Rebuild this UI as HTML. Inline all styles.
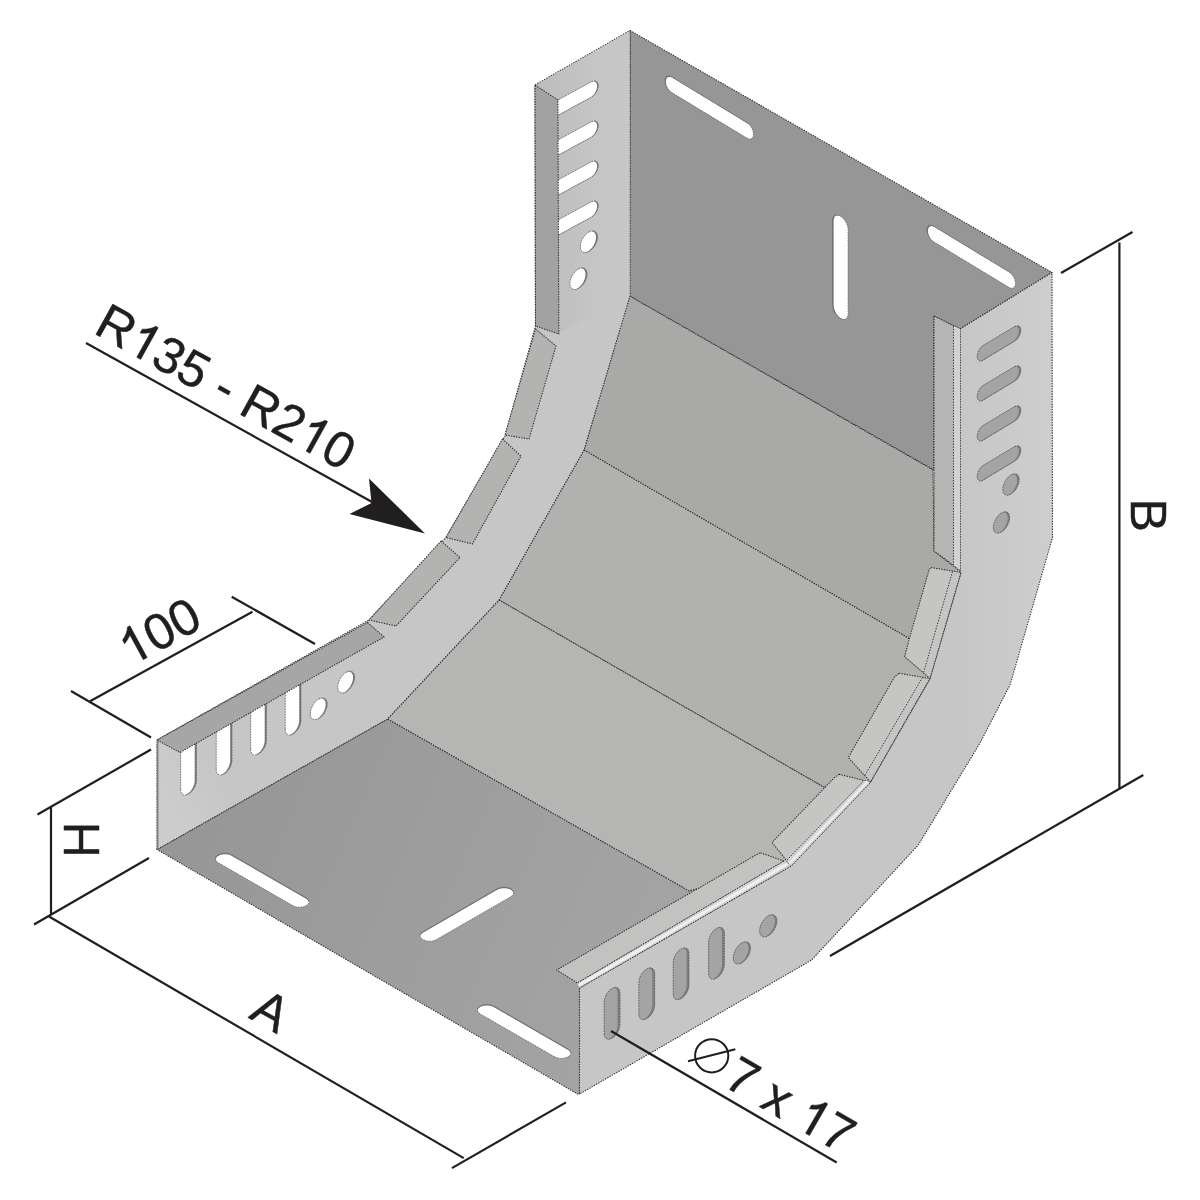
<!DOCTYPE html>
<html><head><meta charset="utf-8">
<style>
html,body{margin:0;padding:0;background:#fff;}
body{width:1200px;height:1200px;overflow:hidden;font-family:"Liberation Sans",sans-serif;}
svg{display:block}
text{font-family:"Liberation Sans",sans-serif;}
.e{stroke:#333;stroke-width:1.1;stroke-linejoin:round;stroke-dasharray:1.4 1.2}
.el{stroke:#383838;stroke-width:1;fill:none;stroke-dasharray:1.4 1.4}
.d{stroke:#211e1f;stroke-width:2.2;fill:none;stroke-linecap:butt}
</style></head><body>
<svg width="1200" height="1200" viewBox="0 0 1200 1200">
<defs>
<linearGradient id="gfloor" x1="200" y1="830" x2="600" y2="1000" gradientUnits="userSpaceOnUse">
<stop offset="0" stop-color="#989797"/><stop offset="1" stop-color="#a4a3a3"/></linearGradient>
<linearGradient id="grw" x1="960" y1="0" x2="1052" y2="0" gradientUnits="userSpaceOnUse">
<stop offset="0" stop-color="#c6c6c6"/><stop offset="1" stop-color="#cecece"/></linearGradient>
<linearGradient id="glw" x1="157" y1="800" x2="400" y2="680" gradientUnits="userSpaceOnUse">
<stop offset="0" stop-color="#cdcdcd"/><stop offset="0.25" stop-color="#c6c6c6"/><stop offset="1" stop-color="#c6c6c6"/></linearGradient>
<linearGradient id="glu" x1="545" y1="0" x2="630" y2="0" gradientUnits="userSpaceOnUse">
<stop offset="0" stop-color="#bebdbd"/><stop offset="0.55" stop-color="#c6c5c5"/><stop offset="1" stop-color="#c8c7c7"/></linearGradient>
</defs>
<rect width="1200" height="1200" fill="#fff"/>

<polygon class="e" fill="#979696" points="630.0,30.5 1052.0,272.5 960.0,329.0 934.0,316.0 934.0,470.0 629.5,296.0" />
<polygon fill="#6e6e6e" points="746.8,122.5 748.3,123.6 749.7,125.0 751.0,126.7 752.1,128.6 752.9,130.5 753.3,132.5 753.5,134.3 753.3,135.9 752.9,137.3 752.1,138.3 751.0,138.9 749.7,139.0 748.3,138.8 746.8,138.1 671.7,92.5 670.2,91.4 668.8,90.0 667.5,88.3 666.4,86.4 665.6,84.5 665.2,82.5 665.0,80.7 665.2,79.1 665.6,77.7 666.4,76.7 667.5,76.1 668.8,76.0 670.2,76.2 671.7,76.9"/>
<clipPath id="c3"><polygon points="746.8,122.5 748.3,123.6 749.7,125.0 751.0,126.7 752.1,128.6 752.9,130.5 753.3,132.5 753.5,134.3 753.3,135.9 752.9,137.3 752.1,138.3 751.0,138.9 749.7,139.0 748.3,138.8 746.8,138.1 671.7,92.5 670.2,91.4 668.8,90.0 667.5,88.3 666.4,86.4 665.6,84.5 665.2,82.5 665.0,80.7 665.2,79.1 665.6,77.7 666.4,76.7 667.5,76.1 668.8,76.0 670.2,76.2 671.7,76.9"/></clipPath>
<polygon clip-path="url(#c3)" fill="#fff" points="747.7,123.4 749.2,124.5 750.6,125.9 751.9,127.6 753.0,129.5 753.8,131.4 754.2,133.4 754.4,135.2 754.2,136.8 753.8,138.2 753.0,139.2 751.9,139.8 750.6,139.9 749.2,139.7 747.7,139.0 672.6,93.4 671.1,92.3 669.7,90.9 668.4,89.2 667.3,87.3 666.5,85.4 666.1,83.4 665.9,81.6 666.1,80.0 666.5,78.6 667.3,77.6 668.4,77.0 669.7,76.9 671.1,77.1 672.6,77.8"/>
<polygon fill="none" stroke="#666" stroke-width="0.8" stroke-dasharray="1.6 1.1" points="746.8,122.5 748.3,123.6 749.7,125.0 751.0,126.7 752.1,128.6 752.9,130.5 753.3,132.5 753.5,134.3 753.3,135.9 752.9,137.3 752.1,138.3 751.0,138.9 749.7,139.0 748.3,138.8 746.8,138.1 671.7,92.5 670.2,91.4 668.8,90.0 667.5,88.3 666.4,86.4 665.6,84.5 665.2,82.5 665.0,80.7 665.2,79.1 665.6,77.7 666.4,76.7 667.5,76.1 668.8,76.0 670.2,76.2 671.7,76.9"/>
<polygon fill="#6e6e6e" points="1008.8,271.7 1010.3,272.8 1011.7,274.2 1013.0,275.9 1014.1,277.8 1014.9,279.8 1015.3,281.7 1015.5,283.6 1015.3,285.2 1014.9,286.5 1014.1,287.5 1013.0,288.1 1011.7,288.3 1010.3,288.0 1008.8,287.3 933.7,241.8 932.2,240.7 930.8,239.3 929.5,237.6 928.4,235.7 927.6,233.7 927.2,231.8 927.0,229.9 927.2,228.3 927.6,227.0 928.4,226.0 929.5,225.4 930.8,225.2 932.2,225.5 933.7,226.2"/>
<clipPath id="c7"><polygon points="1008.8,271.7 1010.3,272.8 1011.7,274.2 1013.0,275.9 1014.1,277.8 1014.9,279.8 1015.3,281.7 1015.5,283.6 1015.3,285.2 1014.9,286.5 1014.1,287.5 1013.0,288.1 1011.7,288.3 1010.3,288.0 1008.8,287.3 933.7,241.8 932.2,240.7 930.8,239.3 929.5,237.6 928.4,235.7 927.6,233.7 927.2,231.8 927.0,229.9 927.2,228.3 927.6,227.0 928.4,226.0 929.5,225.4 930.8,225.2 932.2,225.5 933.7,226.2"/></clipPath>
<polygon clip-path="url(#c7)" fill="#fff" points="1009.7,272.6 1011.2,273.7 1012.6,275.1 1013.9,276.8 1015.0,278.7 1015.8,280.7 1016.2,282.6 1016.4,284.5 1016.2,286.1 1015.8,287.4 1015.0,288.4 1013.9,289.0 1012.6,289.2 1011.2,288.9 1009.7,288.2 934.6,242.7 933.1,241.6 931.7,240.2 930.4,238.5 929.3,236.6 928.5,234.6 928.1,232.7 927.9,230.8 928.1,229.2 928.5,227.9 929.3,226.9 930.4,226.3 931.7,226.1 933.1,226.4 934.6,227.1"/>
<polygon fill="none" stroke="#666" stroke-width="0.8" stroke-dasharray="1.6 1.1" points="1008.8,271.7 1010.3,272.8 1011.7,274.2 1013.0,275.9 1014.1,277.8 1014.9,279.8 1015.3,281.7 1015.5,283.6 1015.3,285.2 1014.9,286.5 1014.1,287.5 1013.0,288.1 1011.7,288.3 1010.3,288.0 1008.8,287.3 933.7,241.8 932.2,240.7 930.8,239.3 929.5,237.6 928.4,235.7 927.6,233.7 927.2,231.8 927.0,229.9 927.2,228.3 927.6,227.0 928.4,226.0 929.5,225.4 930.8,225.2 932.2,225.5 933.7,226.2"/>
<polygon fill="#6e6e6e" points="832.5,304.8 832.7,307.0 833.3,309.2 834.2,311.4 835.4,313.6 836.9,315.5 838.6,317.1 840.3,318.3 842.0,319.1 843.7,319.4 845.2,319.2 846.4,318.5 847.3,317.3 847.9,315.7 848.1,313.8 848.1,229.5 847.9,227.4 847.3,225.2 846.4,223.0 845.2,220.8 843.7,218.9 842.0,217.3 840.3,216.0 838.6,215.3 836.9,215.0 835.4,215.2 834.2,215.9 833.3,217.1 832.7,218.7 832.5,220.5"/>
<clipPath id="c11"><polygon points="832.5,304.8 832.7,307.0 833.3,309.2 834.2,311.4 835.4,313.6 836.9,315.5 838.6,317.1 840.3,318.3 842.0,319.1 843.7,319.4 845.2,319.2 846.4,318.5 847.3,317.3 847.9,315.7 848.1,313.8 848.1,229.5 847.9,227.4 847.3,225.2 846.4,223.0 845.2,220.8 843.7,218.9 842.0,217.3 840.3,216.0 838.6,215.3 836.9,215.0 835.4,215.2 834.2,215.9 833.3,217.1 832.7,218.7 832.5,220.5"/></clipPath>
<polygon clip-path="url(#c11)" fill="#fff" points="833.6,305.2 833.8,307.4 834.4,309.6 835.3,311.8 836.5,314.0 838.0,315.9 839.7,317.5 841.4,318.7 843.1,319.5 844.8,319.8 846.3,319.6 847.5,318.9 848.4,317.7 849.0,316.1 849.2,314.2 849.2,229.9 849.0,227.8 848.4,225.6 847.5,223.4 846.3,221.2 844.8,219.3 843.1,217.7 841.4,216.4 839.7,215.7 838.0,215.4 836.5,215.6 835.3,216.3 834.4,217.5 833.8,219.1 833.6,220.9"/>
<polygon fill="none" stroke="#666" stroke-width="0.8" stroke-dasharray="1.6 1.1" points="832.5,304.8 832.7,307.0 833.3,309.2 834.2,311.4 835.4,313.6 836.9,315.5 838.6,317.1 840.3,318.3 842.0,319.1 843.7,319.4 845.2,319.2 846.4,318.5 847.3,317.3 847.9,315.7 848.1,313.8 848.1,229.5 847.9,227.4 847.3,225.2 846.4,223.0 845.2,220.8 843.7,218.9 842.0,217.3 840.3,216.0 838.6,215.3 836.9,215.0 835.4,215.2 834.2,215.9 833.3,217.1 832.7,218.7 832.5,220.5"/>
<polygon class="e" fill="#a9a9a8" points="629.5,296.0 933.0,470.0 934.0,551.0 961.0,572.0 944.2,630.0 910.0,639.0 584.0,450.0" />
<polygon class="e" fill="#b1b1b0" points="584.0,450.0 910.0,639.0 944.2,630.0 930.0,678.5 870.5,782.0 823.5,787.0 499.0,600.0" />
<polygon class="e" fill="#b5b5b4" points="499.0,600.0 823.5,787.0 870.5,782.0 791.0,866.0 689.0,891.0 387.5,719.0" />
<polygon class="e" fill="url(#gfloor)" points="157.0,849.5 387.5,719.0 689.0,891.0 791.0,866.0 579.5,988.0 579.5,1094.0 577.5,1094.0" />
<polygon fill="#6e6e6e" points="292.6,905.6 294.3,906.4 296.2,906.9 298.3,907.2 300.5,907.2 302.6,906.9 304.5,906.4 306.2,905.6 307.5,904.7 308.5,903.5 309.0,902.3 309.0,901.1 308.5,899.9 307.5,898.7 306.2,897.8 231.9,854.9 230.2,854.1 228.3,853.6 226.2,853.3 224.0,853.3 221.9,853.6 220.0,854.1 218.3,854.9 217.0,855.8 216.0,857.0 215.5,858.2 215.5,859.4 216.0,860.6 217.0,861.8 218.3,862.7"/>
<clipPath id="c19"><polygon points="292.6,905.6 294.3,906.4 296.2,906.9 298.3,907.2 300.5,907.2 302.6,906.9 304.5,906.4 306.2,905.6 307.5,904.7 308.5,903.5 309.0,902.3 309.0,901.1 308.5,899.9 307.5,898.7 306.2,897.8 231.9,854.9 230.2,854.1 228.3,853.6 226.2,853.3 224.0,853.3 221.9,853.6 220.0,854.1 218.3,854.9 217.0,855.8 216.0,857.0 215.5,858.2 215.5,859.4 216.0,860.6 217.0,861.8 218.3,862.7"/></clipPath>
<polygon clip-path="url(#c19)" fill="#fff" points="292.6,906.6 294.3,907.4 296.2,907.9 298.3,908.2 300.5,908.2 302.6,907.9 304.5,907.4 306.2,906.6 307.5,905.7 308.5,904.5 309.0,903.3 309.0,902.1 308.5,900.9 307.5,899.7 306.2,898.8 231.9,855.9 230.2,855.1 228.3,854.6 226.2,854.3 224.0,854.3 221.9,854.6 220.0,855.1 218.3,855.9 217.0,856.8 216.0,858.0 215.5,859.2 215.5,860.4 216.0,861.6 217.0,862.8 218.3,863.7"/>
<polygon fill="none" stroke="#666" stroke-width="0.8" stroke-dasharray="1.6 1.1" points="292.6,905.6 294.3,906.4 296.2,906.9 298.3,907.2 300.5,907.2 302.6,906.9 304.5,906.4 306.2,905.6 307.5,904.7 308.5,903.5 309.0,902.3 309.0,901.1 308.5,899.9 307.5,898.7 306.2,897.8 231.9,854.9 230.2,854.1 228.3,853.6 226.2,853.3 224.0,853.3 221.9,853.6 220.0,854.1 218.3,854.9 217.0,855.8 216.0,857.0 215.5,858.2 215.5,859.4 216.0,860.6 217.0,861.8 218.3,862.7"/>
<polygon fill="#6e6e6e" points="554.5,1056.8 556.1,1057.5 558.1,1058.1 560.2,1058.4 562.3,1058.4 564.4,1058.1 566.4,1057.5 568.1,1056.8 569.4,1055.8 570.3,1054.7 570.8,1053.5 570.8,1052.2 570.3,1051.0 569.4,1049.9 568.1,1048.9 493.7,1006.0 492.1,1005.3 490.1,1004.7 488.0,1004.4 485.9,1004.4 483.8,1004.7 481.8,1005.3 480.1,1006.0 478.8,1007.0 477.9,1008.1 477.4,1009.3 477.4,1010.6 477.9,1011.8 478.8,1012.9 480.1,1013.9"/>
<clipPath id="c23"><polygon points="554.5,1056.8 556.1,1057.5 558.1,1058.1 560.2,1058.4 562.3,1058.4 564.4,1058.1 566.4,1057.5 568.1,1056.8 569.4,1055.8 570.3,1054.7 570.8,1053.5 570.8,1052.2 570.3,1051.0 569.4,1049.9 568.1,1048.9 493.7,1006.0 492.1,1005.3 490.1,1004.7 488.0,1004.4 485.9,1004.4 483.8,1004.7 481.8,1005.3 480.1,1006.0 478.8,1007.0 477.9,1008.1 477.4,1009.3 477.4,1010.6 477.9,1011.8 478.8,1012.9 480.1,1013.9"/></clipPath>
<polygon clip-path="url(#c23)" fill="#fff" points="554.5,1057.8 556.1,1058.5 558.1,1059.1 560.2,1059.4 562.3,1059.4 564.4,1059.1 566.4,1058.5 568.1,1057.8 569.4,1056.8 570.3,1055.7 570.8,1054.5 570.8,1053.2 570.3,1052.0 569.4,1050.9 568.1,1049.9 493.7,1007.0 492.1,1006.3 490.1,1005.7 488.0,1005.4 485.9,1005.4 483.8,1005.7 481.8,1006.3 480.1,1007.0 478.8,1008.0 477.9,1009.1 477.4,1010.3 477.4,1011.6 477.9,1012.8 478.8,1013.9 480.1,1014.9"/>
<polygon fill="none" stroke="#666" stroke-width="0.8" stroke-dasharray="1.6 1.1" points="554.5,1056.8 556.1,1057.5 558.1,1058.1 560.2,1058.4 562.3,1058.4 564.4,1058.1 566.4,1057.5 568.1,1056.8 569.4,1055.8 570.3,1054.7 570.8,1053.5 570.8,1052.2 570.3,1051.0 569.4,1049.9 568.1,1048.9 493.7,1006.0 492.1,1005.3 490.1,1004.7 488.0,1004.4 485.9,1004.4 483.8,1004.7 481.8,1005.3 480.1,1006.0 478.8,1007.0 477.9,1008.1 477.4,1009.3 477.4,1010.6 477.9,1011.8 478.8,1012.9 480.1,1013.9"/>
<polygon fill="#6e6e6e" points="497.2,888.8 498.9,888.1 500.8,887.5 502.9,887.2 505.1,887.2 507.2,887.5 509.1,888.1 510.8,888.8 512.1,889.8 513.1,890.9 513.6,892.1 513.6,893.4 513.1,894.6 512.1,895.7 510.8,896.7 436.5,939.6 434.8,940.3 432.9,940.9 430.8,941.2 428.6,941.2 426.5,940.9 424.6,940.3 422.9,939.6 421.6,938.6 420.6,937.5 420.1,936.3 420.1,935.0 420.6,933.8 421.6,932.7 422.9,931.7"/>
<clipPath id="c27"><polygon points="497.2,888.8 498.9,888.1 500.8,887.5 502.9,887.2 505.1,887.2 507.2,887.5 509.1,888.1 510.8,888.8 512.1,889.8 513.1,890.9 513.6,892.1 513.6,893.4 513.1,894.6 512.1,895.7 510.8,896.7 436.5,939.6 434.8,940.3 432.9,940.9 430.8,941.2 428.6,941.2 426.5,940.9 424.6,940.3 422.9,939.6 421.6,938.6 420.6,937.5 420.1,936.3 420.1,935.0 420.6,933.8 421.6,932.7 422.9,931.7"/></clipPath>
<polygon clip-path="url(#c27)" fill="#fff" points="497.2,889.8 498.9,889.1 500.8,888.5 502.9,888.2 505.1,888.2 507.2,888.5 509.1,889.1 510.8,889.8 512.1,890.8 513.1,891.9 513.6,893.1 513.6,894.4 513.1,895.6 512.1,896.7 510.8,897.7 436.5,940.6 434.8,941.3 432.9,941.9 430.8,942.2 428.6,942.2 426.5,941.9 424.6,941.3 422.9,940.6 421.6,939.6 420.6,938.5 420.1,937.3 420.1,936.0 420.6,934.8 421.6,933.7 422.9,932.7"/>
<polygon fill="none" stroke="#666" stroke-width="0.8" stroke-dasharray="1.6 1.1" points="497.2,888.8 498.9,888.1 500.8,887.5 502.9,887.2 505.1,887.2 507.2,887.5 509.1,888.1 510.8,888.8 512.1,889.8 513.1,890.9 513.6,892.1 513.6,893.4 513.1,894.6 512.1,895.7 510.8,896.7 436.5,939.6 434.8,940.3 432.9,940.9 430.8,941.2 428.6,941.2 426.5,940.9 424.6,940.3 422.9,939.6 421.6,938.6 420.6,937.5 420.1,936.3 420.1,935.0 420.6,933.8 421.6,932.7 422.9,931.7"/>
<polygon class="e" fill="url(#glw)" points="535.0,85.0 630.0,30.5 630.0,296.0 584.0,450.0 499.0,600.0 387.5,719.0 157.0,849.5 157.0,740.0 369.0,620.0 446.0,537.5 505.0,436.0 535.5,326.0" />
<polygon class="" fill="url(#glu)" points="536.0,85.2 629.5,31.3 629.5,296.0 559.0,333.0" />
<polygon fill="#777" points="591.5,81.7 593.0,81.1 594.5,80.9 595.8,81.1 596.8,81.7 597.6,82.8 598.1,84.1 598.3,85.7 598.1,87.5 597.6,89.4 596.8,91.3 595.8,93.1 594.5,94.7 593.0,96.1 591.5,97.1 560.3,114.1 558.8,114.7 557.3,114.9 556.0,114.7 555.0,114.1 554.2,113.0 553.7,111.7 553.5,110.1 553.7,108.3 554.2,106.4 555.0,104.5 556.0,102.7 557.3,101.1 558.8,99.7 560.3,98.7"/>
<clipPath id="c33"><polygon points="591.5,81.7 593.0,81.1 594.5,80.9 595.8,81.1 596.8,81.7 597.6,82.8 598.1,84.1 598.3,85.7 598.1,87.5 597.6,89.4 596.8,91.3 595.8,93.1 594.5,94.7 593.0,96.1 591.5,97.1 560.3,114.1 558.8,114.7 557.3,114.9 556.0,114.7 555.0,114.1 554.2,113.0 553.7,111.7 553.5,110.1 553.7,108.3 554.2,106.4 555.0,104.5 556.0,102.7 557.3,101.1 558.8,99.7 560.3,98.7"/></clipPath>
<polygon clip-path="url(#c33)" fill="#fff" points="590.3,82.1 591.8,81.5 593.3,81.3 594.6,81.5 595.6,82.1 596.4,83.2 596.9,84.5 597.1,86.1 596.9,87.9 596.4,89.8 595.6,91.7 594.6,93.5 593.3,95.1 591.8,96.5 590.3,97.5 559.1,114.5 557.6,115.1 556.1,115.3 554.8,115.1 553.8,114.5 553.0,113.4 552.5,112.1 552.3,110.5 552.5,108.7 553.0,106.8 553.8,104.9 554.8,103.1 556.1,101.5 557.6,100.1 559.1,99.1"/>
<polygon fill="none" stroke="#666" stroke-width="0.8" stroke-dasharray="1.6 1.1" points="591.5,81.7 593.0,81.1 594.5,80.9 595.8,81.1 596.8,81.7 597.6,82.8 598.1,84.1 598.3,85.7 598.1,87.5 597.6,89.4 596.8,91.3 595.8,93.1 594.5,94.7 593.0,96.1 591.5,97.1 560.3,114.1 558.8,114.7 557.3,114.9 556.0,114.7 555.0,114.1 554.2,113.0 553.7,111.7 553.5,110.1 553.7,108.3 554.2,106.4 555.0,104.5 556.0,102.7 557.3,101.1 558.8,99.7 560.3,98.7"/>
<polygon fill="#777" points="591.5,121.7 593.0,121.1 594.5,120.9 595.8,121.1 596.8,121.7 597.6,122.8 598.1,124.1 598.3,125.7 598.1,127.5 597.6,129.4 596.8,131.3 595.8,133.1 594.5,134.7 593.0,136.1 591.5,137.1 560.3,154.1 558.8,154.7 557.3,154.9 556.0,154.7 555.0,154.1 554.2,153.0 553.7,151.7 553.5,150.1 553.7,148.3 554.2,146.4 555.0,144.5 556.0,142.7 557.3,141.1 558.8,139.7 560.3,138.7"/>
<clipPath id="c37"><polygon points="591.5,121.7 593.0,121.1 594.5,120.9 595.8,121.1 596.8,121.7 597.6,122.8 598.1,124.1 598.3,125.7 598.1,127.5 597.6,129.4 596.8,131.3 595.8,133.1 594.5,134.7 593.0,136.1 591.5,137.1 560.3,154.1 558.8,154.7 557.3,154.9 556.0,154.7 555.0,154.1 554.2,153.0 553.7,151.7 553.5,150.1 553.7,148.3 554.2,146.4 555.0,144.5 556.0,142.7 557.3,141.1 558.8,139.7 560.3,138.7"/></clipPath>
<polygon clip-path="url(#c37)" fill="#fff" points="590.3,122.1 591.8,121.5 593.3,121.3 594.6,121.5 595.6,122.1 596.4,123.2 596.9,124.5 597.1,126.1 596.9,127.9 596.4,129.8 595.6,131.7 594.6,133.5 593.3,135.1 591.8,136.5 590.3,137.5 559.1,154.5 557.6,155.1 556.1,155.3 554.8,155.1 553.8,154.5 553.0,153.4 552.5,152.1 552.3,150.5 552.5,148.7 553.0,146.8 553.8,144.9 554.8,143.1 556.1,141.5 557.6,140.1 559.1,139.1"/>
<polygon fill="none" stroke="#666" stroke-width="0.8" stroke-dasharray="1.6 1.1" points="591.5,121.7 593.0,121.1 594.5,120.9 595.8,121.1 596.8,121.7 597.6,122.8 598.1,124.1 598.3,125.7 598.1,127.5 597.6,129.4 596.8,131.3 595.8,133.1 594.5,134.7 593.0,136.1 591.5,137.1 560.3,154.1 558.8,154.7 557.3,154.9 556.0,154.7 555.0,154.1 554.2,153.0 553.7,151.7 553.5,150.1 553.7,148.3 554.2,146.4 555.0,144.5 556.0,142.7 557.3,141.1 558.8,139.7 560.3,138.7"/>
<polygon fill="#777" points="591.5,161.7 593.0,161.1 594.5,160.9 595.8,161.1 596.8,161.7 597.6,162.8 598.1,164.1 598.3,165.7 598.1,167.5 597.6,169.4 596.8,171.3 595.8,173.1 594.5,174.7 593.0,176.1 591.5,177.1 560.3,194.1 558.8,194.7 557.3,194.9 556.0,194.7 555.0,194.1 554.2,193.0 553.7,191.7 553.5,190.1 553.7,188.3 554.2,186.4 555.0,184.5 556.0,182.7 557.3,181.1 558.8,179.7 560.3,178.7"/>
<clipPath id="c41"><polygon points="591.5,161.7 593.0,161.1 594.5,160.9 595.8,161.1 596.8,161.7 597.6,162.8 598.1,164.1 598.3,165.7 598.1,167.5 597.6,169.4 596.8,171.3 595.8,173.1 594.5,174.7 593.0,176.1 591.5,177.1 560.3,194.1 558.8,194.7 557.3,194.9 556.0,194.7 555.0,194.1 554.2,193.0 553.7,191.7 553.5,190.1 553.7,188.3 554.2,186.4 555.0,184.5 556.0,182.7 557.3,181.1 558.8,179.7 560.3,178.7"/></clipPath>
<polygon clip-path="url(#c41)" fill="#fff" points="590.3,162.1 591.8,161.5 593.3,161.3 594.6,161.5 595.6,162.1 596.4,163.2 596.9,164.5 597.1,166.1 596.9,167.9 596.4,169.8 595.6,171.7 594.6,173.5 593.3,175.1 591.8,176.5 590.3,177.5 559.1,194.5 557.6,195.1 556.1,195.3 554.8,195.1 553.8,194.5 553.0,193.4 552.5,192.1 552.3,190.5 552.5,188.7 553.0,186.8 553.8,184.9 554.8,183.1 556.1,181.5 557.6,180.1 559.1,179.1"/>
<polygon fill="none" stroke="#666" stroke-width="0.8" stroke-dasharray="1.6 1.1" points="591.5,161.7 593.0,161.1 594.5,160.9 595.8,161.1 596.8,161.7 597.6,162.8 598.1,164.1 598.3,165.7 598.1,167.5 597.6,169.4 596.8,171.3 595.8,173.1 594.5,174.7 593.0,176.1 591.5,177.1 560.3,194.1 558.8,194.7 557.3,194.9 556.0,194.7 555.0,194.1 554.2,193.0 553.7,191.7 553.5,190.1 553.7,188.3 554.2,186.4 555.0,184.5 556.0,182.7 557.3,181.1 558.8,179.7 560.3,178.7"/>
<polygon fill="#777" points="591.5,201.7 593.0,201.1 594.5,200.9 595.8,201.1 596.8,201.7 597.6,202.8 598.1,204.1 598.3,205.7 598.1,207.5 597.6,209.4 596.8,211.3 595.8,213.1 594.5,214.7 593.0,216.1 591.5,217.1 560.3,234.1 558.8,234.7 557.3,234.9 556.0,234.7 555.0,234.1 554.2,233.0 553.7,231.7 553.5,230.1 553.7,228.3 554.2,226.4 555.0,224.5 556.0,222.7 557.3,221.1 558.8,219.7 560.3,218.7"/>
<clipPath id="c45"><polygon points="591.5,201.7 593.0,201.1 594.5,200.9 595.8,201.1 596.8,201.7 597.6,202.8 598.1,204.1 598.3,205.7 598.1,207.5 597.6,209.4 596.8,211.3 595.8,213.1 594.5,214.7 593.0,216.1 591.5,217.1 560.3,234.1 558.8,234.7 557.3,234.9 556.0,234.7 555.0,234.1 554.2,233.0 553.7,231.7 553.5,230.1 553.7,228.3 554.2,226.4 555.0,224.5 556.0,222.7 557.3,221.1 558.8,219.7 560.3,218.7"/></clipPath>
<polygon clip-path="url(#c45)" fill="#fff" points="590.3,202.1 591.8,201.5 593.3,201.3 594.6,201.5 595.6,202.1 596.4,203.2 596.9,204.5 597.1,206.1 596.9,207.9 596.4,209.8 595.6,211.7 594.6,213.5 593.3,215.1 591.8,216.5 590.3,217.5 559.1,234.5 557.6,235.1 556.1,235.3 554.8,235.1 553.8,234.5 553.0,233.4 552.5,232.1 552.3,230.5 552.5,228.7 553.0,226.8 553.8,224.9 554.8,223.1 556.1,221.5 557.6,220.1 559.1,219.1"/>
<polygon fill="none" stroke="#666" stroke-width="0.8" stroke-dasharray="1.6 1.1" points="591.5,201.7 593.0,201.1 594.5,200.9 595.8,201.1 596.8,201.7 597.6,202.8 598.1,204.1 598.3,205.7 598.1,207.5 597.6,209.4 596.8,211.3 595.8,213.1 594.5,214.7 593.0,216.1 591.5,217.1 560.3,234.1 558.8,234.7 557.3,234.9 556.0,234.7 555.0,234.1 554.2,233.0 553.7,231.7 553.5,230.1 553.7,228.3 554.2,226.4 555.0,224.5 556.0,222.7 557.3,221.1 558.8,219.7 560.3,218.7"/>
<polygon fill="#777" points="589.0,231.9 590.9,231.1 592.7,230.8 594.4,231.1 595.7,231.9 596.8,233.2 597.4,235.0 597.6,237.0 597.4,239.3 596.8,241.7 595.7,244.2 594.4,246.4 592.7,248.5 590.9,250.2 589.0,251.5 589.0,251.5 587.1,252.3 585.3,252.6 583.6,252.3 582.3,251.5 581.2,250.2 580.6,248.4 580.4,246.4 580.6,244.1 581.2,241.7 582.3,239.2 583.6,237.0 585.3,234.9 587.1,233.2 589.0,231.9"/>
<clipPath id="c49"><polygon points="589.0,231.9 590.9,231.1 592.7,230.8 594.4,231.1 595.7,231.9 596.8,233.2 597.4,235.0 597.6,237.0 597.4,239.3 596.8,241.7 595.7,244.2 594.4,246.4 592.7,248.5 590.9,250.2 589.0,251.5 589.0,251.5 587.1,252.3 585.3,252.6 583.6,252.3 582.3,251.5 581.2,250.2 580.6,248.4 580.4,246.4 580.6,244.1 581.2,241.7 582.3,239.2 583.6,237.0 585.3,234.9 587.1,233.2 589.0,231.9"/></clipPath>
<polygon clip-path="url(#c49)" fill="#fff" points="587.4,232.2 589.3,231.4 591.1,231.1 592.8,231.4 594.1,232.2 595.2,233.5 595.8,235.3 596.0,237.3 595.8,239.6 595.2,242.0 594.1,244.5 592.8,246.7 591.1,248.8 589.3,250.5 587.4,251.8 587.4,251.8 585.5,252.6 583.7,252.9 582.0,252.6 580.7,251.8 579.6,250.5 579.0,248.7 578.8,246.7 579.0,244.4 579.6,242.0 580.7,239.5 582.0,237.3 583.7,235.2 585.5,233.5 587.4,232.2"/>
<polygon fill="none" stroke="#666" stroke-width="0.8" stroke-dasharray="1.6 1.1" points="589.0,231.9 590.9,231.1 592.7,230.8 594.4,231.1 595.7,231.9 596.8,233.2 597.4,235.0 597.6,237.0 597.4,239.3 596.8,241.7 595.7,244.2 594.4,246.4 592.7,248.5 590.9,250.2 589.0,251.5 589.0,251.5 587.1,252.3 585.3,252.6 583.6,252.3 582.3,251.5 581.2,250.2 580.6,248.4 580.4,246.4 580.6,244.1 581.2,241.7 582.3,239.2 583.6,237.0 585.3,234.9 587.1,233.2 589.0,231.9"/>
<polygon fill="#777" points="578.5,268.9 580.4,268.1 582.2,267.8 583.9,268.1 585.2,268.9 586.3,270.2 586.9,272.0 587.1,274.0 586.9,276.3 586.3,278.7 585.2,281.2 583.9,283.4 582.2,285.5 580.4,287.2 578.5,288.5 578.5,288.5 576.6,289.3 574.8,289.6 573.1,289.3 571.8,288.5 570.7,287.2 570.1,285.4 569.9,283.4 570.1,281.1 570.7,278.7 571.8,276.2 573.1,274.0 574.8,271.9 576.6,270.2 578.5,268.9"/>
<clipPath id="c53"><polygon points="578.5,268.9 580.4,268.1 582.2,267.8 583.9,268.1 585.2,268.9 586.3,270.2 586.9,272.0 587.1,274.0 586.9,276.3 586.3,278.7 585.2,281.2 583.9,283.4 582.2,285.5 580.4,287.2 578.5,288.5 578.5,288.5 576.6,289.3 574.8,289.6 573.1,289.3 571.8,288.5 570.7,287.2 570.1,285.4 569.9,283.4 570.1,281.1 570.7,278.7 571.8,276.2 573.1,274.0 574.8,271.9 576.6,270.2 578.5,268.9"/></clipPath>
<polygon clip-path="url(#c53)" fill="#fff" points="576.9,269.2 578.8,268.4 580.6,268.1 582.3,268.4 583.6,269.2 584.7,270.5 585.3,272.3 585.5,274.3 585.3,276.6 584.7,279.0 583.6,281.5 582.3,283.7 580.6,285.8 578.8,287.5 576.9,288.8 576.9,288.8 575.0,289.6 573.2,289.9 571.5,289.6 570.2,288.8 569.1,287.5 568.5,285.7 568.3,283.7 568.5,281.4 569.1,279.0 570.2,276.5 571.5,274.3 573.2,272.2 575.0,270.5 576.9,269.2"/>
<polygon fill="none" stroke="#666" stroke-width="0.8" stroke-dasharray="1.6 1.1" points="578.5,268.9 580.4,268.1 582.2,267.8 583.9,268.1 585.2,268.9 586.3,270.2 586.9,272.0 587.1,274.0 586.9,276.3 586.3,278.7 585.2,281.2 583.9,283.4 582.2,285.5 580.4,287.2 578.5,288.5 578.5,288.5 576.6,289.3 574.8,289.6 573.1,289.3 571.8,288.5 570.7,287.2 570.1,285.4 569.9,283.4 570.1,281.1 570.7,278.7 571.8,276.2 573.1,274.0 574.8,271.9 576.6,270.2 578.5,268.9"/>
<polygon fill="#777" points="180.7,789.4 180.9,791.4 181.5,792.9 182.4,794.1 183.7,794.9 185.2,795.1 186.8,794.8 188.6,794.0 190.4,792.8 192.0,791.1 193.5,789.2 194.8,787.0 195.7,784.7 196.3,782.5 196.5,780.4 196.5,738.6 196.3,736.6 195.7,735.1 194.8,733.9 193.5,733.1 192.0,732.9 190.4,733.2 188.6,734.0 186.8,735.2 185.2,736.9 183.7,738.8 182.4,741.0 181.5,743.3 180.9,745.5 180.7,747.6"/>
<clipPath id="c57"><polygon points="180.7,789.4 180.9,791.4 181.5,792.9 182.4,794.1 183.7,794.9 185.2,795.1 186.8,794.8 188.6,794.0 190.4,792.8 192.0,791.1 193.5,789.2 194.8,787.0 195.7,784.7 196.3,782.5 196.5,780.4 196.5,738.6 196.3,736.6 195.7,735.1 194.8,733.9 193.5,733.1 192.0,732.9 190.4,733.2 188.6,734.0 186.8,735.2 185.2,736.9 183.7,738.8 182.4,741.0 181.5,743.3 180.9,745.5 180.7,747.6"/></clipPath>
<polygon clip-path="url(#c57)" fill="#fff" points="178.9,789.7 179.1,791.7 179.7,793.2 180.6,794.4 181.9,795.2 183.4,795.4 185.0,795.1 186.8,794.3 188.6,793.1 190.2,791.4 191.7,789.5 193.0,787.3 193.9,785.0 194.5,782.8 194.7,780.6 194.7,738.9 194.5,736.9 193.9,735.4 193.0,734.2 191.7,733.4 190.2,733.2 188.6,733.5 186.8,734.3 185.0,735.5 183.4,737.2 181.9,739.1 180.6,741.3 179.7,743.6 179.1,745.8 178.9,747.9"/>
<polygon fill="none" stroke="#666" stroke-width="0.8" stroke-dasharray="1.6 1.1" points="180.7,789.4 180.9,791.4 181.5,792.9 182.4,794.1 183.7,794.9 185.2,795.1 186.8,794.8 188.6,794.0 190.4,792.8 192.0,791.1 193.5,789.2 194.8,787.0 195.7,784.7 196.3,782.5 196.5,780.4 196.5,738.6 196.3,736.6 195.7,735.1 194.8,733.9 193.5,733.1 192.0,732.9 190.4,733.2 188.6,734.0 186.8,735.2 185.2,736.9 183.7,738.8 182.4,741.0 181.5,743.3 180.9,745.5 180.7,747.6"/>
<polygon fill="#777" points="216.2,769.4 216.4,771.4 217.0,772.9 217.9,774.1 219.2,774.9 220.7,775.1 222.3,774.8 224.1,774.0 225.9,772.8 227.5,771.1 229.0,769.2 230.3,767.0 231.2,764.7 231.8,762.5 232.0,760.4 232.0,718.6 231.8,716.6 231.2,715.1 230.3,713.9 229.0,713.1 227.5,712.9 225.9,713.2 224.1,714.0 222.3,715.2 220.7,716.9 219.2,718.8 217.9,721.0 217.0,723.3 216.4,725.5 216.2,727.6"/>
<clipPath id="c61"><polygon points="216.2,769.4 216.4,771.4 217.0,772.9 217.9,774.1 219.2,774.9 220.7,775.1 222.3,774.8 224.1,774.0 225.9,772.8 227.5,771.1 229.0,769.2 230.3,767.0 231.2,764.7 231.8,762.5 232.0,760.4 232.0,718.6 231.8,716.6 231.2,715.1 230.3,713.9 229.0,713.1 227.5,712.9 225.9,713.2 224.1,714.0 222.3,715.2 220.7,716.9 219.2,718.8 217.9,721.0 217.0,723.3 216.4,725.5 216.2,727.6"/></clipPath>
<polygon clip-path="url(#c61)" fill="#fff" points="214.4,769.7 214.6,771.7 215.2,773.2 216.1,774.4 217.4,775.2 218.9,775.4 220.5,775.1 222.3,774.3 224.1,773.1 225.7,771.4 227.2,769.5 228.5,767.3 229.4,765.0 230.0,762.8 230.2,760.6 230.2,718.9 230.0,716.9 229.4,715.4 228.5,714.2 227.2,713.4 225.7,713.2 224.1,713.5 222.3,714.3 220.5,715.5 218.9,717.2 217.4,719.1 216.1,721.3 215.2,723.6 214.6,725.8 214.4,727.9"/>
<polygon fill="none" stroke="#666" stroke-width="0.8" stroke-dasharray="1.6 1.1" points="216.2,769.4 216.4,771.4 217.0,772.9 217.9,774.1 219.2,774.9 220.7,775.1 222.3,774.8 224.1,774.0 225.9,772.8 227.5,771.1 229.0,769.2 230.3,767.0 231.2,764.7 231.8,762.5 232.0,760.4 232.0,718.6 231.8,716.6 231.2,715.1 230.3,713.9 229.0,713.1 227.5,712.9 225.9,713.2 224.1,714.0 222.3,715.2 220.7,716.9 219.2,718.8 217.9,721.0 217.0,723.3 216.4,725.5 216.2,727.6"/>
<polygon fill="#777" points="250.7,749.4 250.9,751.4 251.5,752.9 252.4,754.1 253.7,754.9 255.2,755.1 256.8,754.8 258.6,754.0 260.4,752.8 262.0,751.1 263.5,749.2 264.8,747.0 265.7,744.7 266.3,742.5 266.5,740.4 266.5,698.6 266.3,696.6 265.7,695.1 264.8,693.9 263.5,693.1 262.0,692.9 260.4,693.2 258.6,694.0 256.8,695.2 255.2,696.9 253.7,698.8 252.4,701.0 251.5,703.3 250.9,705.5 250.7,707.6"/>
<clipPath id="c65"><polygon points="250.7,749.4 250.9,751.4 251.5,752.9 252.4,754.1 253.7,754.9 255.2,755.1 256.8,754.8 258.6,754.0 260.4,752.8 262.0,751.1 263.5,749.2 264.8,747.0 265.7,744.7 266.3,742.5 266.5,740.4 266.5,698.6 266.3,696.6 265.7,695.1 264.8,693.9 263.5,693.1 262.0,692.9 260.4,693.2 258.6,694.0 256.8,695.2 255.2,696.9 253.7,698.8 252.4,701.0 251.5,703.3 250.9,705.5 250.7,707.6"/></clipPath>
<polygon clip-path="url(#c65)" fill="#fff" points="248.9,749.7 249.1,751.7 249.7,753.2 250.6,754.4 251.9,755.2 253.4,755.4 255.0,755.1 256.8,754.3 258.6,753.1 260.2,751.4 261.7,749.5 263.0,747.3 263.9,745.0 264.5,742.8 264.7,740.6 264.7,698.9 264.5,696.9 263.9,695.4 263.0,694.2 261.7,693.4 260.2,693.2 258.6,693.5 256.8,694.3 255.0,695.5 253.4,697.2 251.9,699.1 250.6,701.3 249.7,703.6 249.1,705.8 248.9,707.9"/>
<polygon fill="none" stroke="#666" stroke-width="0.8" stroke-dasharray="1.6 1.1" points="250.7,749.4 250.9,751.4 251.5,752.9 252.4,754.1 253.7,754.9 255.2,755.1 256.8,754.8 258.6,754.0 260.4,752.8 262.0,751.1 263.5,749.2 264.8,747.0 265.7,744.7 266.3,742.5 266.5,740.4 266.5,698.6 266.3,696.6 265.7,695.1 264.8,693.9 263.5,693.1 262.0,692.9 260.4,693.2 258.6,694.0 256.8,695.2 255.2,696.9 253.7,698.8 252.4,701.0 251.5,703.3 250.9,705.5 250.7,707.6"/>
<polygon fill="#777" points="285.2,729.4 285.4,731.4 286.0,732.9 286.9,734.1 288.2,734.9 289.7,735.1 291.3,734.8 293.1,734.0 294.9,732.8 296.5,731.1 298.0,729.2 299.3,727.0 300.2,724.7 300.8,722.5 301.0,720.4 301.0,678.6 300.8,676.6 300.2,675.1 299.3,673.9 298.0,673.1 296.5,672.9 294.9,673.2 293.1,674.0 291.3,675.2 289.7,676.9 288.2,678.8 286.9,681.0 286.0,683.3 285.4,685.5 285.2,687.6"/>
<clipPath id="c69"><polygon points="285.2,729.4 285.4,731.4 286.0,732.9 286.9,734.1 288.2,734.9 289.7,735.1 291.3,734.8 293.1,734.0 294.9,732.8 296.5,731.1 298.0,729.2 299.3,727.0 300.2,724.7 300.8,722.5 301.0,720.4 301.0,678.6 300.8,676.6 300.2,675.1 299.3,673.9 298.0,673.1 296.5,672.9 294.9,673.2 293.1,674.0 291.3,675.2 289.7,676.9 288.2,678.8 286.9,681.0 286.0,683.3 285.4,685.5 285.2,687.6"/></clipPath>
<polygon clip-path="url(#c69)" fill="#fff" points="283.4,729.7 283.6,731.7 284.2,733.2 285.1,734.4 286.4,735.2 287.9,735.4 289.5,735.1 291.3,734.3 293.1,733.1 294.7,731.4 296.2,729.5 297.5,727.3 298.4,725.0 299.0,722.8 299.2,720.6 299.2,678.9 299.0,676.9 298.4,675.4 297.5,674.2 296.2,673.4 294.7,673.2 293.1,673.5 291.3,674.3 289.5,675.5 287.9,677.2 286.4,679.1 285.1,681.3 284.2,683.6 283.6,685.8 283.4,687.9"/>
<polygon fill="none" stroke="#666" stroke-width="0.8" stroke-dasharray="1.6 1.1" points="285.2,729.4 285.4,731.4 286.0,732.9 286.9,734.1 288.2,734.9 289.7,735.1 291.3,734.8 293.1,734.0 294.9,732.8 296.5,731.1 298.0,729.2 299.3,727.0 300.2,724.7 300.8,722.5 301.0,720.4 301.0,678.6 300.8,676.6 300.2,675.1 299.3,673.9 298.0,673.1 296.5,672.9 294.9,673.2 293.1,674.0 291.3,675.2 289.7,676.9 288.2,678.8 286.9,681.0 286.0,683.3 285.4,685.5 285.2,687.6"/>
<polygon fill="#777" points="318.8,699.0 320.7,698.2 322.5,697.8 324.1,698.1 325.4,698.9 326.4,700.1 327.1,701.8 327.3,703.9 327.1,706.2 326.4,708.6 325.4,711.1 324.1,713.4 322.5,715.5 320.7,717.3 318.8,718.6 318.8,718.6 316.9,719.4 315.1,719.8 313.5,719.5 312.2,718.7 311.2,717.5 310.5,715.8 310.3,713.7 310.5,711.4 311.2,709.0 312.2,706.5 313.5,704.2 315.1,702.1 316.9,700.3 318.8,699.0"/>
<clipPath id="c73"><polygon points="318.8,699.0 320.7,698.2 322.5,697.8 324.1,698.1 325.4,698.9 326.4,700.1 327.1,701.8 327.3,703.9 327.1,706.2 326.4,708.6 325.4,711.1 324.1,713.4 322.5,715.5 320.7,717.3 318.8,718.6 318.8,718.6 316.9,719.4 315.1,719.8 313.5,719.5 312.2,718.7 311.2,717.5 310.5,715.8 310.3,713.7 310.5,711.4 311.2,709.0 312.2,706.5 313.5,704.2 315.1,702.1 316.9,700.3 318.8,699.0"/></clipPath>
<polygon clip-path="url(#c73)" fill="#fff" points="317.2,699.3 319.1,698.5 320.9,698.1 322.5,698.4 323.8,699.2 324.8,700.4 325.5,702.1 325.7,704.2 325.5,706.5 324.8,708.9 323.8,711.4 322.5,713.7 320.9,715.8 319.1,717.6 317.2,718.9 317.2,718.9 315.3,719.7 313.5,720.1 311.9,719.8 310.6,719.0 309.6,717.8 308.9,716.1 308.7,714.0 308.9,711.7 309.6,709.3 310.6,706.8 311.9,704.5 313.5,702.4 315.3,700.6 317.2,699.3"/>
<polygon fill="none" stroke="#666" stroke-width="0.8" stroke-dasharray="1.6 1.1" points="318.8,699.0 320.7,698.2 322.5,697.8 324.1,698.1 325.4,698.9 326.4,700.1 327.1,701.8 327.3,703.9 327.1,706.2 326.4,708.6 325.4,711.1 324.1,713.4 322.5,715.5 320.7,717.3 318.8,718.6 318.8,718.6 316.9,719.4 315.1,719.8 313.5,719.5 312.2,718.7 311.2,717.5 310.5,715.8 310.3,713.7 310.5,711.4 311.2,709.0 312.2,706.5 313.5,704.2 315.1,702.1 316.9,700.3 318.8,699.0"/>
<polygon fill="#777" points="346.2,672.3 348.1,671.5 349.9,671.1 351.5,671.4 352.8,672.2 353.8,673.4 354.5,675.1 354.7,677.2 354.5,679.5 353.8,681.9 352.8,684.4 351.5,686.7 349.9,688.8 348.1,690.6 346.2,691.9 346.2,691.9 344.3,692.7 342.5,693.1 340.9,692.8 339.6,692.0 338.6,690.8 337.9,689.1 337.7,687.0 337.9,684.7 338.6,682.3 339.6,679.8 340.9,677.5 342.5,675.4 344.3,673.6 346.2,672.3"/>
<clipPath id="c77"><polygon points="346.2,672.3 348.1,671.5 349.9,671.1 351.5,671.4 352.8,672.2 353.8,673.4 354.5,675.1 354.7,677.2 354.5,679.5 353.8,681.9 352.8,684.4 351.5,686.7 349.9,688.8 348.1,690.6 346.2,691.9 346.2,691.9 344.3,692.7 342.5,693.1 340.9,692.8 339.6,692.0 338.6,690.8 337.9,689.1 337.7,687.0 337.9,684.7 338.6,682.3 339.6,679.8 340.9,677.5 342.5,675.4 344.3,673.6 346.2,672.3"/></clipPath>
<polygon clip-path="url(#c77)" fill="#fff" points="344.6,672.6 346.5,671.8 348.3,671.4 349.9,671.7 351.2,672.5 352.2,673.7 352.9,675.4 353.1,677.5 352.9,679.8 352.2,682.2 351.2,684.7 349.9,687.0 348.3,689.1 346.5,690.9 344.6,692.2 344.6,692.2 342.7,693.0 340.9,693.4 339.3,693.1 338.0,692.3 337.0,691.1 336.3,689.4 336.1,687.3 336.3,685.0 337.0,682.6 338.0,680.1 339.3,677.8 340.9,675.7 342.7,673.9 344.6,672.6"/>
<polygon fill="none" stroke="#666" stroke-width="0.8" stroke-dasharray="1.6 1.1" points="346.2,672.3 348.1,671.5 349.9,671.1 351.5,671.4 352.8,672.2 353.8,673.4 354.5,675.1 354.7,677.2 354.5,679.5 353.8,681.9 352.8,684.4 351.5,686.7 349.9,688.8 348.1,690.6 346.2,691.9 346.2,691.9 344.3,692.7 342.5,693.1 340.9,692.8 339.6,692.0 338.6,690.8 337.9,689.1 337.7,687.0 337.9,684.7 338.6,682.3 339.6,679.8 340.9,677.5 342.5,675.4 344.3,673.6 346.2,672.3"/>
<line x1="157.6" y1="741" x2="157.6" y2="849" stroke="#808080" stroke-width="1.8"/>
<polygon class="e" fill="#a3a2a2" points="535.0,85.0 557.9,100.0 558.8,334.0 535.5,326.0" />
<polygon class="e" fill="#b3b3b2" points="535.5,329.0 556.0,346.0 529.0,439.0 505.0,435.0" />
<polygon class="e" fill="#b3b3b2" points="502.5,439.0 521.0,456.0 472.5,544.0 446.0,537.5" />
<polygon class="e" fill="#b3b3b2" points="441.0,541.0 460.0,557.5 396.0,626.0 369.0,620.0" />
<polygon class="e" fill="#a7a6a6" points="367.5,622.5 384.0,637.0 180.0,752.5 157.0,740.0" />
<polygon class="e" fill="url(#grw)" points="960.0,329.0 1052.0,272.5 1052.5,537.5 1010.0,685.0 980.0,743.0 918.3,845.0 811.7,960.0 579.5,1094.0 579.5,988.0 791.0,866.0 870.5,782.0 930.0,678.5 961.0,572.0 960.0,570.0" />
<polygon class="e" fill="#b5b5b4" points="934.0,316.0 960.0,329.0 960.0,570.0 934.0,551.0" />
<polygon class="" fill="#d2d2d2" points="953.5,326.0 960.0,329.0 960.0,570.0 953.5,565.0" />
<polyline class="el" points="953.5,326.0 953.5,565.0" />
<polygon class="e" fill="#c5c5c4" points="931.0,567.5 961.0,572.5 930.0,678.5 904.6,656.7 909.2,639.2 929.0,570.0" />
<polyline class="el" points="952.5,571.5 923.5,673.0" />
<polygon class="e" fill="#c5c5c4" points="899.0,673.3 930.0,678.5 870.5,782.0 848.3,757.5 894.6,676.7" />
<polyline class="el" points="922.5,677.5 864.5,776.0" />
<polygon class="e" fill="#c5c5c4" points="839.0,774.3 870.5,782.0 791.0,866.0 772.0,842.5 834.5,777.5" />
<polygon class="" fill="#d2d2d2" points="864.0,780.5 870.5,782.0 791.0,866.0 786.5,860.5" />
<line x1="867.6" y1="781.6" x2="789.2" y2="863.6" stroke="#ececec" stroke-width="2.6"/>
<polyline class="el" points="864.0,780.5 786.5,860.5" />
<polygon class="e" fill="#c2c2c1" points="760.5,852.8 784.0,861.0 577.5,983.0 556.7,970.0 756.0,855.0" />
<polygon class="" fill="#d4d4d4" points="784.0,861.0 791.0,866.0 579.5,988.0 577.5,983.0" />
<line x1="787.5" y1="863.7" x2="578.6" y2="985.4" stroke="#efefef" stroke-width="3"/>
<polyline class="el" points="784.0,861.0 577.5,983.0" />
<polyline class="el" points="791.0,866.0 579.5,988.0" />
<polygon fill="#7c7c7c" points="1014.6,326.6 1016.0,325.9 1017.3,325.7 1018.5,325.8 1019.5,326.4 1020.2,327.4 1020.7,328.6 1020.9,330.2 1020.7,331.9 1020.2,333.7 1019.5,335.6 1018.5,337.3 1017.3,338.9 1016.0,340.3 1014.6,341.3 983.4,360.0 982.0,360.7 980.7,360.9 979.5,360.8 978.5,360.2 977.8,359.2 977.3,358.0 977.1,356.4 977.3,354.7 977.8,352.9 978.5,351.0 979.5,349.3 980.7,347.7 982.0,346.3 983.4,345.3"/>
<clipPath id="c104"><polygon points="1014.6,326.6 1016.0,325.9 1017.3,325.7 1018.5,325.8 1019.5,326.4 1020.2,327.4 1020.7,328.6 1020.9,330.2 1020.7,331.9 1020.2,333.7 1019.5,335.6 1018.5,337.3 1017.3,338.9 1016.0,340.3 1014.6,341.3 983.4,360.0 982.0,360.7 980.7,360.9 979.5,360.8 978.5,360.2 977.8,359.2 977.3,358.0 977.1,356.4 977.3,354.7 977.8,352.9 978.5,351.0 979.5,349.3 980.7,347.7 982.0,346.3 983.4,345.3"/></clipPath>
<polygon clip-path="url(#c104)" fill="#a5a4a4" points="1012.6,327.1 1014.0,326.4 1015.3,326.2 1016.5,326.3 1017.5,326.9 1018.2,327.9 1018.7,329.1 1018.9,330.7 1018.7,332.4 1018.2,334.2 1017.5,336.1 1016.5,337.8 1015.3,339.4 1014.0,340.8 1012.6,341.8 981.4,360.5 980.0,361.2 978.7,361.4 977.5,361.3 976.5,360.7 975.8,359.7 975.3,358.5 975.1,356.9 975.3,355.2 975.8,353.4 976.5,351.5 977.5,349.8 978.7,348.2 980.0,346.8 981.4,345.8"/>
<polygon fill="none" stroke="#555" stroke-width="0.8" stroke-dasharray="1.6 1.1" points="1014.6,326.6 1016.0,325.9 1017.3,325.7 1018.5,325.8 1019.5,326.4 1020.2,327.4 1020.7,328.6 1020.9,330.2 1020.7,331.9 1020.2,333.7 1019.5,335.6 1018.5,337.3 1017.3,338.9 1016.0,340.3 1014.6,341.3 983.4,360.0 982.0,360.7 980.7,360.9 979.5,360.8 978.5,360.2 977.8,359.2 977.3,358.0 977.1,356.4 977.3,354.7 977.8,352.9 978.5,351.0 979.5,349.3 980.7,347.7 982.0,346.3 983.4,345.3"/>
<polygon fill="#7c7c7c" points="1014.6,366.6 1016.0,365.9 1017.3,365.7 1018.5,365.8 1019.5,366.4 1020.2,367.4 1020.7,368.6 1020.9,370.2 1020.7,371.9 1020.2,373.7 1019.5,375.6 1018.5,377.3 1017.3,378.9 1016.0,380.3 1014.6,381.3 983.4,400.0 982.0,400.7 980.7,400.9 979.5,400.8 978.5,400.2 977.8,399.2 977.3,398.0 977.1,396.4 977.3,394.7 977.8,392.9 978.5,391.0 979.5,389.3 980.7,387.7 982.0,386.3 983.4,385.3"/>
<clipPath id="c108"><polygon points="1014.6,366.6 1016.0,365.9 1017.3,365.7 1018.5,365.8 1019.5,366.4 1020.2,367.4 1020.7,368.6 1020.9,370.2 1020.7,371.9 1020.2,373.7 1019.5,375.6 1018.5,377.3 1017.3,378.9 1016.0,380.3 1014.6,381.3 983.4,400.0 982.0,400.7 980.7,400.9 979.5,400.8 978.5,400.2 977.8,399.2 977.3,398.0 977.1,396.4 977.3,394.7 977.8,392.9 978.5,391.0 979.5,389.3 980.7,387.7 982.0,386.3 983.4,385.3"/></clipPath>
<polygon clip-path="url(#c108)" fill="#a5a4a4" points="1012.6,367.1 1014.0,366.4 1015.3,366.2 1016.5,366.3 1017.5,366.9 1018.2,367.9 1018.7,369.1 1018.9,370.7 1018.7,372.4 1018.2,374.2 1017.5,376.1 1016.5,377.8 1015.3,379.4 1014.0,380.8 1012.6,381.8 981.4,400.5 980.0,401.2 978.7,401.4 977.5,401.3 976.5,400.7 975.8,399.7 975.3,398.5 975.1,396.9 975.3,395.2 975.8,393.4 976.5,391.5 977.5,389.8 978.7,388.2 980.0,386.8 981.4,385.8"/>
<polygon fill="none" stroke="#555" stroke-width="0.8" stroke-dasharray="1.6 1.1" points="1014.6,366.6 1016.0,365.9 1017.3,365.7 1018.5,365.8 1019.5,366.4 1020.2,367.4 1020.7,368.6 1020.9,370.2 1020.7,371.9 1020.2,373.7 1019.5,375.6 1018.5,377.3 1017.3,378.9 1016.0,380.3 1014.6,381.3 983.4,400.0 982.0,400.7 980.7,400.9 979.5,400.8 978.5,400.2 977.8,399.2 977.3,398.0 977.1,396.4 977.3,394.7 977.8,392.9 978.5,391.0 979.5,389.3 980.7,387.7 982.0,386.3 983.4,385.3"/>
<polygon fill="#7c7c7c" points="1014.6,406.6 1016.0,405.9 1017.3,405.7 1018.5,405.8 1019.5,406.4 1020.2,407.4 1020.7,408.6 1020.9,410.2 1020.7,411.9 1020.2,413.7 1019.5,415.6 1018.5,417.3 1017.3,418.9 1016.0,420.3 1014.6,421.3 983.4,440.0 982.0,440.7 980.7,440.9 979.5,440.8 978.5,440.2 977.8,439.2 977.3,438.0 977.1,436.4 977.3,434.7 977.8,432.9 978.5,431.0 979.5,429.3 980.7,427.7 982.0,426.3 983.4,425.3"/>
<clipPath id="c112"><polygon points="1014.6,406.6 1016.0,405.9 1017.3,405.7 1018.5,405.8 1019.5,406.4 1020.2,407.4 1020.7,408.6 1020.9,410.2 1020.7,411.9 1020.2,413.7 1019.5,415.6 1018.5,417.3 1017.3,418.9 1016.0,420.3 1014.6,421.3 983.4,440.0 982.0,440.7 980.7,440.9 979.5,440.8 978.5,440.2 977.8,439.2 977.3,438.0 977.1,436.4 977.3,434.7 977.8,432.9 978.5,431.0 979.5,429.3 980.7,427.7 982.0,426.3 983.4,425.3"/></clipPath>
<polygon clip-path="url(#c112)" fill="#a5a4a4" points="1012.6,407.1 1014.0,406.4 1015.3,406.2 1016.5,406.3 1017.5,406.9 1018.2,407.9 1018.7,409.1 1018.9,410.7 1018.7,412.4 1018.2,414.2 1017.5,416.1 1016.5,417.8 1015.3,419.4 1014.0,420.8 1012.6,421.8 981.4,440.5 980.0,441.2 978.7,441.4 977.5,441.3 976.5,440.7 975.8,439.7 975.3,438.5 975.1,436.9 975.3,435.2 975.8,433.4 976.5,431.5 977.5,429.8 978.7,428.2 980.0,426.8 981.4,425.8"/>
<polygon fill="none" stroke="#555" stroke-width="0.8" stroke-dasharray="1.6 1.1" points="1014.6,406.6 1016.0,405.9 1017.3,405.7 1018.5,405.8 1019.5,406.4 1020.2,407.4 1020.7,408.6 1020.9,410.2 1020.7,411.9 1020.2,413.7 1019.5,415.6 1018.5,417.3 1017.3,418.9 1016.0,420.3 1014.6,421.3 983.4,440.0 982.0,440.7 980.7,440.9 979.5,440.8 978.5,440.2 977.8,439.2 977.3,438.0 977.1,436.4 977.3,434.7 977.8,432.9 978.5,431.0 979.5,429.3 980.7,427.7 982.0,426.3 983.4,425.3"/>
<polygon fill="#7c7c7c" points="1014.6,446.6 1016.0,445.9 1017.3,445.7 1018.5,445.8 1019.5,446.4 1020.2,447.4 1020.7,448.6 1020.9,450.2 1020.7,451.9 1020.2,453.7 1019.5,455.6 1018.5,457.3 1017.3,458.9 1016.0,460.3 1014.6,461.3 983.4,480.0 982.0,480.7 980.7,480.9 979.5,480.8 978.5,480.2 977.8,479.2 977.3,478.0 977.1,476.4 977.3,474.7 977.8,472.9 978.5,471.0 979.5,469.3 980.7,467.7 982.0,466.3 983.4,465.3"/>
<clipPath id="c116"><polygon points="1014.6,446.6 1016.0,445.9 1017.3,445.7 1018.5,445.8 1019.5,446.4 1020.2,447.4 1020.7,448.6 1020.9,450.2 1020.7,451.9 1020.2,453.7 1019.5,455.6 1018.5,457.3 1017.3,458.9 1016.0,460.3 1014.6,461.3 983.4,480.0 982.0,480.7 980.7,480.9 979.5,480.8 978.5,480.2 977.8,479.2 977.3,478.0 977.1,476.4 977.3,474.7 977.8,472.9 978.5,471.0 979.5,469.3 980.7,467.7 982.0,466.3 983.4,465.3"/></clipPath>
<polygon clip-path="url(#c116)" fill="#a5a4a4" points="1012.6,447.1 1014.0,446.4 1015.3,446.2 1016.5,446.3 1017.5,446.9 1018.2,447.9 1018.7,449.1 1018.9,450.7 1018.7,452.4 1018.2,454.2 1017.5,456.1 1016.5,457.8 1015.3,459.4 1014.0,460.8 1012.6,461.8 981.4,480.5 980.0,481.2 978.7,481.4 977.5,481.3 976.5,480.7 975.8,479.7 975.3,478.5 975.1,476.9 975.3,475.2 975.8,473.4 976.5,471.5 977.5,469.8 978.7,468.2 980.0,466.8 981.4,465.8"/>
<polygon fill="none" stroke="#555" stroke-width="0.8" stroke-dasharray="1.6 1.1" points="1014.6,446.6 1016.0,445.9 1017.3,445.7 1018.5,445.8 1019.5,446.4 1020.2,447.4 1020.7,448.6 1020.9,450.2 1020.7,451.9 1020.2,453.7 1019.5,455.6 1018.5,457.3 1017.3,458.9 1016.0,460.3 1014.6,461.3 983.4,480.0 982.0,480.7 980.7,480.9 979.5,480.8 978.5,480.2 977.8,479.2 977.3,478.0 977.1,476.4 977.3,474.7 977.8,472.9 978.5,471.0 979.5,469.3 980.7,467.7 982.0,466.3 983.4,465.3"/>
<polygon fill="#7c7c7c" points="1011.0,474.9 1012.8,474.0 1014.6,473.7 1016.1,473.9 1017.4,474.6 1018.4,475.9 1019.0,477.5 1019.2,479.6 1019.0,481.8 1018.4,484.2 1017.4,486.6 1016.1,488.9 1014.6,491.0 1012.8,492.8 1011.0,494.1 1011.0,494.1 1009.2,495.0 1007.4,495.3 1005.9,495.1 1004.6,494.4 1003.6,493.1 1003.0,491.5 1002.8,489.4 1003.0,487.2 1003.6,484.8 1004.6,482.4 1005.9,480.1 1007.4,478.0 1009.2,476.2 1011.0,474.9"/>
<clipPath id="c120"><polygon points="1011.0,474.9 1012.8,474.0 1014.6,473.7 1016.1,473.9 1017.4,474.6 1018.4,475.9 1019.0,477.5 1019.2,479.6 1019.0,481.8 1018.4,484.2 1017.4,486.6 1016.1,488.9 1014.6,491.0 1012.8,492.8 1011.0,494.1 1011.0,494.1 1009.2,495.0 1007.4,495.3 1005.9,495.1 1004.6,494.4 1003.6,493.1 1003.0,491.5 1002.8,489.4 1003.0,487.2 1003.6,484.8 1004.6,482.4 1005.9,480.1 1007.4,478.0 1009.2,476.2 1011.0,474.9"/></clipPath>
<polygon clip-path="url(#c120)" fill="#a5a4a4" points="1009.0,475.4 1010.8,474.5 1012.6,474.2 1014.1,474.4 1015.4,475.1 1016.4,476.4 1017.0,478.0 1017.2,480.1 1017.0,482.3 1016.4,484.7 1015.4,487.1 1014.1,489.4 1012.6,491.5 1010.8,493.3 1009.0,494.6 1009.0,494.6 1007.2,495.5 1005.4,495.8 1003.9,495.6 1002.6,494.9 1001.6,493.6 1001.0,492.0 1000.8,489.9 1001.0,487.7 1001.6,485.3 1002.6,482.9 1003.9,480.6 1005.4,478.5 1007.2,476.7 1009.0,475.4"/>
<polygon fill="none" stroke="#555" stroke-width="0.8" stroke-dasharray="1.6 1.1" points="1011.0,474.9 1012.8,474.0 1014.6,473.7 1016.1,473.9 1017.4,474.6 1018.4,475.9 1019.0,477.5 1019.2,479.6 1019.0,481.8 1018.4,484.2 1017.4,486.6 1016.1,488.9 1014.6,491.0 1012.8,492.8 1011.0,494.1 1011.0,494.1 1009.2,495.0 1007.4,495.3 1005.9,495.1 1004.6,494.4 1003.6,493.1 1003.0,491.5 1002.8,489.4 1003.0,487.2 1003.6,484.8 1004.6,482.4 1005.9,480.1 1007.4,478.0 1009.2,476.2 1011.0,474.9"/>
<polygon fill="#7c7c7c" points="1001.5,512.9 1003.3,512.0 1005.1,511.7 1006.6,511.9 1007.9,512.6 1008.9,513.9 1009.5,515.5 1009.7,517.6 1009.5,519.8 1008.9,522.2 1007.9,524.6 1006.6,526.9 1005.1,529.0 1003.3,530.8 1001.5,532.1 1001.5,532.1 999.7,533.0 997.9,533.3 996.4,533.1 995.1,532.4 994.1,531.1 993.5,529.5 993.3,527.4 993.5,525.2 994.1,522.8 995.1,520.4 996.4,518.1 997.9,516.0 999.7,514.2 1001.5,512.9"/>
<clipPath id="c124"><polygon points="1001.5,512.9 1003.3,512.0 1005.1,511.7 1006.6,511.9 1007.9,512.6 1008.9,513.9 1009.5,515.5 1009.7,517.6 1009.5,519.8 1008.9,522.2 1007.9,524.6 1006.6,526.9 1005.1,529.0 1003.3,530.8 1001.5,532.1 1001.5,532.1 999.7,533.0 997.9,533.3 996.4,533.1 995.1,532.4 994.1,531.1 993.5,529.5 993.3,527.4 993.5,525.2 994.1,522.8 995.1,520.4 996.4,518.1 997.9,516.0 999.7,514.2 1001.5,512.9"/></clipPath>
<polygon clip-path="url(#c124)" fill="#a5a4a4" points="999.5,513.4 1001.3,512.5 1003.1,512.2 1004.6,512.4 1005.9,513.1 1006.9,514.4 1007.5,516.0 1007.7,518.1 1007.5,520.3 1006.9,522.7 1005.9,525.1 1004.6,527.4 1003.1,529.5 1001.3,531.3 999.5,532.6 999.5,532.6 997.7,533.5 995.9,533.8 994.4,533.6 993.1,532.9 992.1,531.6 991.5,530.0 991.3,527.9 991.5,525.7 992.1,523.3 993.1,520.9 994.4,518.6 995.9,516.5 997.7,514.7 999.5,513.4"/>
<polygon fill="none" stroke="#555" stroke-width="0.8" stroke-dasharray="1.6 1.1" points="1001.5,512.9 1003.3,512.0 1005.1,511.7 1006.6,511.9 1007.9,512.6 1008.9,513.9 1009.5,515.5 1009.7,517.6 1009.5,519.8 1008.9,522.2 1007.9,524.6 1006.6,526.9 1005.1,529.0 1003.3,530.8 1001.5,532.1 1001.5,532.1 999.7,533.0 997.9,533.3 996.4,533.1 995.1,532.4 994.1,531.1 993.5,529.5 993.3,527.4 993.5,525.2 994.1,522.8 995.1,520.4 996.4,518.1 997.9,516.0 999.7,514.2 1001.5,512.9"/>
<polygon fill="#7c7c7c" points="604.2,1033.6 604.4,1035.6 605.0,1037.1 605.9,1038.3 607.2,1039.1 608.7,1039.3 610.3,1039.0 612.1,1038.2 613.9,1037.0 615.5,1035.3 617.0,1033.4 618.3,1031.2 619.2,1028.9 619.8,1026.7 620.0,1024.5 620.0,993.0 619.8,991.0 619.2,989.5 618.3,988.3 617.0,987.5 615.5,987.3 613.9,987.6 612.1,988.4 610.3,989.6 608.7,991.3 607.2,993.2 605.9,995.4 605.0,997.7 604.4,999.9 604.2,1002.0"/>
<clipPath id="c128"><polygon points="604.2,1033.6 604.4,1035.6 605.0,1037.1 605.9,1038.3 607.2,1039.1 608.7,1039.3 610.3,1039.0 612.1,1038.2 613.9,1037.0 615.5,1035.3 617.0,1033.4 618.3,1031.2 619.2,1028.9 619.8,1026.7 620.0,1024.5 620.0,993.0 619.8,991.0 619.2,989.5 618.3,988.3 617.0,987.5 615.5,987.3 613.9,987.6 612.1,988.4 610.3,989.6 608.7,991.3 607.2,993.2 605.9,995.4 605.0,997.7 604.4,999.9 604.2,1002.0"/></clipPath>
<polygon clip-path="url(#c128)" fill="#a5a4a4" points="601.8,1033.9 602.0,1035.9 602.6,1037.4 603.5,1038.6 604.8,1039.4 606.3,1039.6 607.9,1039.3 609.7,1038.5 611.5,1037.3 613.1,1035.6 614.6,1033.7 615.9,1031.5 616.8,1029.2 617.4,1027.0 617.6,1024.8 617.6,993.2 617.4,991.3 616.8,989.8 615.9,988.6 614.6,987.8 613.1,987.6 611.5,987.9 609.7,988.7 607.9,989.9 606.3,991.6 604.8,993.5 603.5,995.7 602.6,998.0 602.0,1000.2 601.8,1002.3"/>
<polygon fill="none" stroke="#555" stroke-width="0.8" stroke-dasharray="1.6 1.1" points="604.2,1033.6 604.4,1035.6 605.0,1037.1 605.9,1038.3 607.2,1039.1 608.7,1039.3 610.3,1039.0 612.1,1038.2 613.9,1037.0 615.5,1035.3 617.0,1033.4 618.3,1031.2 619.2,1028.9 619.8,1026.7 620.0,1024.5 620.0,993.0 619.8,991.0 619.2,989.5 618.3,988.3 617.0,987.5 615.5,987.3 613.9,987.6 612.1,988.4 610.3,989.6 608.7,991.3 607.2,993.2 605.9,995.4 605.0,997.7 604.4,999.9 604.2,1002.0"/>
<polygon fill="#7c7c7c" points="638.9,1014.1 639.1,1016.0 639.7,1017.6 640.6,1018.8 641.9,1019.5 643.4,1019.7 645.0,1019.4 646.8,1018.6 648.6,1017.4 650.2,1015.8 651.7,1013.8 653.0,1011.7 653.9,1009.4 654.5,1007.1 654.7,1005.0 654.7,973.4 654.5,971.5 653.9,969.9 653.0,968.7 651.7,968.0 650.2,967.8 648.6,968.1 646.8,968.9 645.0,970.1 643.4,971.7 641.9,973.7 640.6,975.8 639.7,978.1 639.1,980.4 638.9,982.5"/>
<clipPath id="c132"><polygon points="638.9,1014.1 639.1,1016.0 639.7,1017.6 640.6,1018.8 641.9,1019.5 643.4,1019.7 645.0,1019.4 646.8,1018.6 648.6,1017.4 650.2,1015.8 651.7,1013.8 653.0,1011.7 653.9,1009.4 654.5,1007.1 654.7,1005.0 654.7,973.4 654.5,971.5 653.9,969.9 653.0,968.7 651.7,968.0 650.2,967.8 648.6,968.1 646.8,968.9 645.0,970.1 643.4,971.7 641.9,973.7 640.6,975.8 639.7,978.1 639.1,980.4 638.9,982.5"/></clipPath>
<polygon clip-path="url(#c132)" fill="#a5a4a4" points="636.5,1014.4 636.7,1016.3 637.3,1017.9 638.2,1019.1 639.5,1019.8 641.0,1020.0 642.6,1019.7 644.4,1018.9 646.2,1017.7 647.8,1016.1 649.3,1014.1 650.6,1012.0 651.5,1009.7 652.1,1007.4 652.3,1005.3 652.3,973.7 652.1,971.8 651.5,970.2 650.6,969.0 649.3,968.3 647.8,968.1 646.2,968.4 644.4,969.1 642.6,970.4 641.0,972.0 639.5,974.0 638.2,976.1 637.3,978.4 636.7,980.7 636.5,982.8"/>
<polygon fill="none" stroke="#555" stroke-width="0.8" stroke-dasharray="1.6 1.1" points="638.9,1014.1 639.1,1016.0 639.7,1017.6 640.6,1018.8 641.9,1019.5 643.4,1019.7 645.0,1019.4 646.8,1018.6 648.6,1017.4 650.2,1015.8 651.7,1013.8 653.0,1011.7 653.9,1009.4 654.5,1007.1 654.7,1005.0 654.7,973.4 654.5,971.5 653.9,969.9 653.0,968.7 651.7,968.0 650.2,967.8 648.6,968.1 646.8,968.9 645.0,970.1 643.4,971.7 641.9,973.7 640.6,975.8 639.7,978.1 639.1,980.4 638.9,982.5"/>
<polygon fill="#7c7c7c" points="673.2,994.1 673.4,996.0 674.0,997.6 674.9,998.8 676.2,999.5 677.7,999.7 679.3,999.4 681.1,998.6 682.9,997.4 684.5,995.8 686.0,993.8 687.3,991.7 688.2,989.4 688.8,987.1 689.0,985.0 689.0,953.4 688.8,951.5 688.2,949.9 687.3,948.7 686.0,948.0 684.5,947.8 682.9,948.1 681.1,948.9 679.3,950.1 677.7,951.7 676.2,953.7 674.9,955.8 674.0,958.1 673.4,960.4 673.2,962.5"/>
<clipPath id="c136"><polygon points="673.2,994.1 673.4,996.0 674.0,997.6 674.9,998.8 676.2,999.5 677.7,999.7 679.3,999.4 681.1,998.6 682.9,997.4 684.5,995.8 686.0,993.8 687.3,991.7 688.2,989.4 688.8,987.1 689.0,985.0 689.0,953.4 688.8,951.5 688.2,949.9 687.3,948.7 686.0,948.0 684.5,947.8 682.9,948.1 681.1,948.9 679.3,950.1 677.7,951.7 676.2,953.7 674.9,955.8 674.0,958.1 673.4,960.4 673.2,962.5"/></clipPath>
<polygon clip-path="url(#c136)" fill="#a5a4a4" points="670.8,994.4 671.0,996.3 671.6,997.9 672.5,999.1 673.8,999.8 675.3,1000.0 676.9,999.7 678.7,998.9 680.5,997.7 682.1,996.1 683.6,994.1 684.9,992.0 685.8,989.7 686.4,987.4 686.6,985.3 686.6,953.7 686.4,951.8 685.8,950.2 684.9,949.0 683.6,948.3 682.1,948.1 680.5,948.4 678.7,949.1 676.9,950.4 675.3,952.0 673.8,954.0 672.5,956.1 671.6,958.4 671.0,960.7 670.8,962.8"/>
<polygon fill="none" stroke="#555" stroke-width="0.8" stroke-dasharray="1.6 1.1" points="673.2,994.1 673.4,996.0 674.0,997.6 674.9,998.8 676.2,999.5 677.7,999.7 679.3,999.4 681.1,998.6 682.9,997.4 684.5,995.8 686.0,993.8 687.3,991.7 688.2,989.4 688.8,987.1 689.0,985.0 689.0,953.4 688.8,951.5 688.2,949.9 687.3,948.7 686.0,948.0 684.5,947.8 682.9,948.1 681.1,948.9 679.3,950.1 677.7,951.7 676.2,953.7 674.9,955.8 674.0,958.1 673.4,960.4 673.2,962.5"/>
<polygon fill="#7c7c7c" points="708.6,973.6 708.8,975.6 709.4,977.1 710.3,978.3 711.6,979.1 713.1,979.3 714.7,979.0 716.5,978.2 718.3,977.0 719.9,975.3 721.4,973.4 722.7,971.2 723.6,968.9 724.2,966.7 724.4,964.5 724.4,933.0 724.2,931.0 723.6,929.5 722.7,928.3 721.4,927.5 719.9,927.3 718.3,927.6 716.5,928.4 714.7,929.6 713.1,931.3 711.6,933.2 710.3,935.4 709.4,937.7 708.8,939.9 708.6,942.0"/>
<clipPath id="c140"><polygon points="708.6,973.6 708.8,975.6 709.4,977.1 710.3,978.3 711.6,979.1 713.1,979.3 714.7,979.0 716.5,978.2 718.3,977.0 719.9,975.3 721.4,973.4 722.7,971.2 723.6,968.9 724.2,966.7 724.4,964.5 724.4,933.0 724.2,931.0 723.6,929.5 722.7,928.3 721.4,927.5 719.9,927.3 718.3,927.6 716.5,928.4 714.7,929.6 713.1,931.3 711.6,933.2 710.3,935.4 709.4,937.7 708.8,939.9 708.6,942.0"/></clipPath>
<polygon clip-path="url(#c140)" fill="#a5a4a4" points="706.2,973.9 706.4,975.9 707.0,977.4 707.9,978.6 709.2,979.4 710.7,979.6 712.3,979.3 714.1,978.5 715.9,977.3 717.5,975.6 719.0,973.7 720.3,971.5 721.2,969.2 721.8,967.0 722.0,964.8 722.0,933.2 721.8,931.3 721.2,929.8 720.3,928.6 719.0,927.8 717.5,927.6 715.9,927.9 714.1,928.7 712.3,929.9 710.7,931.6 709.2,933.5 707.9,935.7 707.0,938.0 706.4,940.2 706.2,942.3"/>
<polygon fill="none" stroke="#555" stroke-width="0.8" stroke-dasharray="1.6 1.1" points="708.6,973.6 708.8,975.6 709.4,977.1 710.3,978.3 711.6,979.1 713.1,979.3 714.7,979.0 716.5,978.2 718.3,977.0 719.9,975.3 721.4,973.4 722.7,971.2 723.6,968.9 724.2,966.7 724.4,964.5 724.4,933.0 724.2,931.0 723.6,929.5 722.7,928.3 721.4,927.5 719.9,927.3 718.3,927.6 716.5,928.4 714.7,929.6 713.1,931.3 711.6,933.2 710.3,935.4 709.4,937.7 708.8,939.9 708.6,942.0"/>
<polygon fill="#7c7c7c" points="741.9,942.9 743.8,942.0 745.7,941.7 747.3,942.0 748.7,942.8 749.7,944.1 750.3,945.8 750.6,947.9 750.3,950.3 749.7,952.7 748.7,955.2 747.3,957.6 745.7,959.7 743.8,961.5 741.9,962.9 741.9,962.9 740.0,963.8 738.1,964.1 736.5,963.8 735.1,963.0 734.1,961.7 733.5,960.0 733.2,957.9 733.5,955.5 734.1,953.1 735.1,950.6 736.5,948.2 738.1,946.1 740.0,944.3 741.9,942.9"/>
<clipPath id="c144"><polygon points="741.9,942.9 743.8,942.0 745.7,941.7 747.3,942.0 748.7,942.8 749.7,944.1 750.3,945.8 750.6,947.9 750.3,950.3 749.7,952.7 748.7,955.2 747.3,957.6 745.7,959.7 743.8,961.5 741.9,962.9 741.9,962.9 740.0,963.8 738.1,964.1 736.5,963.8 735.1,963.0 734.1,961.7 733.5,960.0 733.2,957.9 733.5,955.5 734.1,953.1 735.1,950.6 736.5,948.2 738.1,946.1 740.0,944.3 741.9,942.9"/></clipPath>
<polygon clip-path="url(#c144)" fill="#a5a4a4" points="739.9,943.2 741.8,942.3 743.7,942.0 745.3,942.3 746.7,943.1 747.7,944.4 748.3,946.1 748.6,948.2 748.3,950.6 747.7,953.0 746.7,955.5 745.3,957.9 743.7,960.0 741.8,961.8 739.9,963.2 739.9,963.2 738.0,964.1 736.1,964.4 734.5,964.1 733.1,963.3 732.1,962.0 731.5,960.3 731.2,958.2 731.5,955.8 732.1,953.4 733.1,950.9 734.5,948.5 736.1,946.4 738.0,944.6 739.9,943.2"/>
<polygon fill="none" stroke="#555" stroke-width="0.8" stroke-dasharray="1.6 1.1" points="741.9,942.9 743.8,942.0 745.7,941.7 747.3,942.0 748.7,942.8 749.7,944.1 750.3,945.8 750.6,947.9 750.3,950.3 749.7,952.7 748.7,955.2 747.3,957.6 745.7,959.7 743.8,961.5 741.9,962.9 741.9,962.9 740.0,963.8 738.1,964.1 736.5,963.8 735.1,963.0 734.1,961.7 733.5,960.0 733.2,957.9 733.5,955.5 734.1,953.1 735.1,950.6 736.5,948.2 738.1,946.1 740.0,944.3 741.9,942.9"/>
<polygon fill="#7c7c7c" points="768.3,915.8 770.2,914.9 772.1,914.6 773.7,914.9 775.1,915.7 776.1,917.0 776.7,918.7 777.0,920.8 776.7,923.2 776.1,925.6 775.1,928.1 773.7,930.5 772.1,932.6 770.2,934.4 768.3,935.8 768.3,935.8 766.4,936.7 764.5,937.0 762.9,936.7 761.5,935.9 760.5,934.6 759.9,932.9 759.6,930.8 759.9,928.4 760.5,926.0 761.5,923.5 762.9,921.1 764.5,919.0 766.4,917.2 768.3,915.8"/>
<clipPath id="c148"><polygon points="768.3,915.8 770.2,914.9 772.1,914.6 773.7,914.9 775.1,915.7 776.1,917.0 776.7,918.7 777.0,920.8 776.7,923.2 776.1,925.6 775.1,928.1 773.7,930.5 772.1,932.6 770.2,934.4 768.3,935.8 768.3,935.8 766.4,936.7 764.5,937.0 762.9,936.7 761.5,935.9 760.5,934.6 759.9,932.9 759.6,930.8 759.9,928.4 760.5,926.0 761.5,923.5 762.9,921.1 764.5,919.0 766.4,917.2 768.3,915.8"/></clipPath>
<polygon clip-path="url(#c148)" fill="#a5a4a4" points="766.3,916.1 768.2,915.2 770.1,914.9 771.7,915.2 773.1,916.0 774.1,917.3 774.7,919.0 775.0,921.1 774.7,923.5 774.1,925.9 773.1,928.4 771.7,930.8 770.1,932.9 768.2,934.7 766.3,936.1 766.3,936.1 764.4,937.0 762.5,937.3 760.9,937.0 759.5,936.2 758.5,934.9 757.9,933.2 757.6,931.1 757.9,928.7 758.5,926.3 759.5,923.8 760.9,921.4 762.5,919.3 764.4,917.5 766.3,916.1"/>
<polygon fill="none" stroke="#555" stroke-width="0.8" stroke-dasharray="1.6 1.1" points="768.3,915.8 770.2,914.9 772.1,914.6 773.7,914.9 775.1,915.7 776.1,917.0 776.7,918.7 777.0,920.8 776.7,923.2 776.1,925.6 775.1,928.1 773.7,930.5 772.1,932.6 770.2,934.4 768.3,935.8 768.3,935.8 766.4,936.7 764.5,937.0 762.9,936.7 761.5,935.9 760.5,934.6 759.9,932.9 759.6,930.8 759.9,928.4 760.5,926.0 761.5,923.5 762.9,921.1 764.5,919.0 766.4,917.2 768.3,915.8"/>
<g class="d">
<line x1="86" y1="343" x2="372.5" y2="502.3"/>
<line x1="90" y1="701.3" x2="252.5" y2="611.7"/>
<line x1="71" y1="691" x2="151" y2="737.5"/>
<line x1="231.7" y1="596.7" x2="315" y2="644"/>
<line x1="37.5" y1="814.5" x2="151" y2="749.5"/>
<line x1="34" y1="924.5" x2="149" y2="858"/>
<line x1="51" y1="807" x2="51" y2="915"/>
<line x1="49" y1="916.5" x2="463.75" y2="1158.1"/>
<line x1="566" y1="1102.4" x2="451.9" y2="1168.1"/>
<line x1="1061" y1="273" x2="1132.5" y2="232"/>
<line x1="1119.4" y1="242.5" x2="1119.4" y2="788.3"/>
<line x1="611" y1="1031" x2="836.7" y2="1162.5"/>
<line x1="830" y1="956" x2="1143.3" y2="775"/>
</g>
<polygon fill="#211e1f" points="425,533.5 369,478.5 371.5,503 349.5,514"/>
<circle cx="711.7" cy="1055.8" r="16.6" fill="none" stroke="#211e1f" stroke-width="2"/>
<line x1="688" y1="1061.3" x2="735.3" y2="1049.2" stroke="#211e1f" stroke-width="2"/>
<g transform="translate(92.3,332.6) rotate(29)" fill="#211e1f" stroke="#211e1f" stroke-width="0.45">
<text x="0.00" y="0" font-size="50.5">R</text>
<path d="M763 0H583V1147Q518 1085 412.5 1023T223 930V1104Q374 1175 487 1276T647 1472H763Z" transform="translate(36.46,0) scale(0.0246582,-0.0246582)" stroke-width="18.2495"/>
<text x="64.54" y="0" font-size="50.5">3</text>
<text x="92.62" y="0" font-size="50.5">5</text>
<text x="134.73" y="0" font-size="50.5">-</text>
<text x="165.59" y="0" font-size="50.5">R</text>
<text x="202.05" y="0" font-size="50.5">2</text>
<path d="M763 0H583V1147Q518 1085 412.5 1023T223 930V1104Q374 1175 487 1276T647 1472H763Z" transform="translate(230.13,0) scale(0.0246582,-0.0246582)" stroke-width="18.2495"/>
<text x="258.21" y="0" font-size="50.5">0</text>
</g>
<g transform="translate(167.7,646.5) rotate(-28.5)" fill="#211e1f" stroke="#211e1f" stroke-width="0.45">
<path d="M763 0H583V1147Q518 1085 412.5 1023T223 930V1104Q374 1175 487 1276T647 1472H763Z" transform="translate(-42.12,0) scale(0.0246582,-0.0246582)" stroke-width="18.2495"/>
<text x="-14.04" y="0" font-size="50.5">0</text>
<text x="14.04" y="0" font-size="50.5">0</text>
</g>
<g transform="translate(98.75,839.75) rotate(-90)" fill="#211e1f" stroke="#211e1f" stroke-width="0.45">
<text x="-18.23" y="0" font-size="50.5">H</text>
</g>
<g transform="translate(262.5,1025.8) rotate(29.5)" fill="#211e1f" stroke="#211e1f" stroke-width="0.45">
<text x="-16.84" y="0" font-size="50.5">A</text>
</g>
<g transform="translate(1131.25,498.25) rotate(90)" fill="#211e1f" stroke="#211e1f" stroke-width="0.45">
<text x="0.00" y="0" font-size="50.5">B</text>
</g>
<g transform="translate(721.8,1085) rotate(30)" fill="#211e1f" stroke="#211e1f" stroke-width="0.45">
<text x="0.00" y="0" font-size="51">7</text>
<text x="42.53" y="0" font-size="51">x</text>
<path d="M763 0H583V1147Q518 1085 412.5 1023T223 930V1104Q374 1175 487 1276T647 1472H763Z" transform="translate(82.21,0) scale(0.0249023,-0.0249023)" stroke-width="18.0706"/>
<text x="110.57" y="0" font-size="51">7</text>
</g>
</svg>
</body></html>
